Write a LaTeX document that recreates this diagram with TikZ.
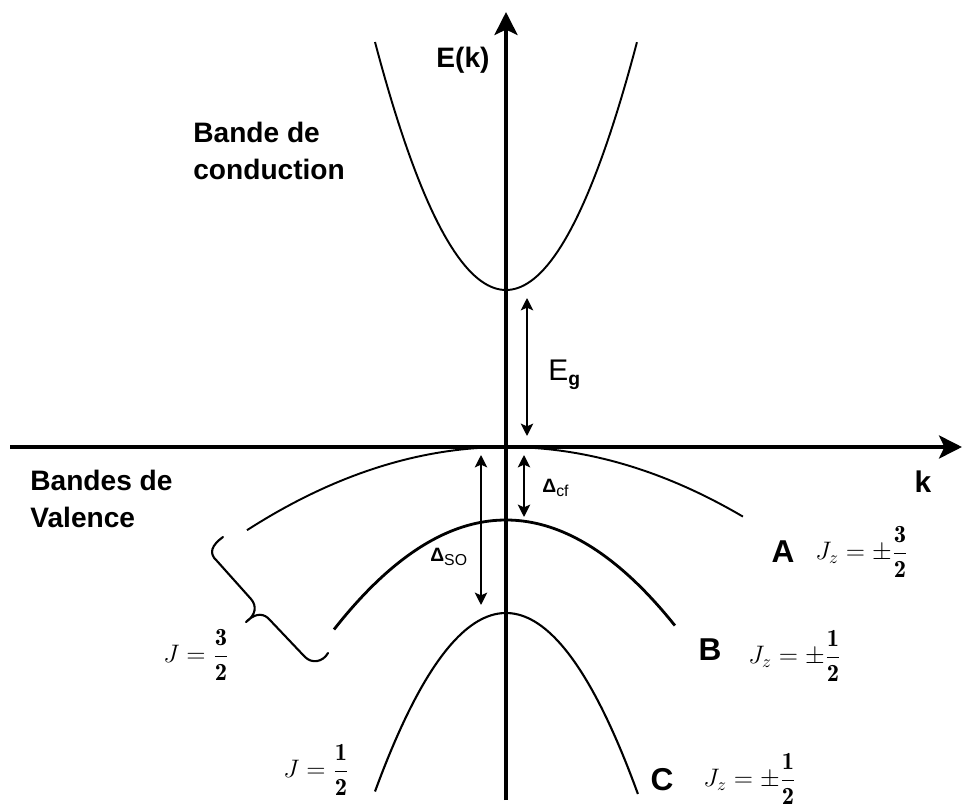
\documentclass[tikz,border=0pt]{standalone}
\usepackage{amsmath}
\usepackage{fontspec}
\setsansfont{Liberation Sans}
\usetikzlibrary{arrows.meta}

\tikzset{
  lbl/.style={font=\sffamily\bfseries\fontsize{16}{21.5}\selectfont, align=left, inner sep=0pt},
  letter/.style={font=\sffamily\bfseries\fontsize{18}{20}\selectfont, inner sep=0pt},
  jlbl/.style={font=\fontsize{14}{17}\selectfont, inner sep=0pt},
  dlbl/.style={font=\sffamily\fontsize{11}{13}\selectfont, inner sep=0pt},
  band/.style={line width=1.1pt},
  axis/.style={line width=2.6pt, -{Stealth[length=13pt,width=13pt,inset=3pt]}},
  gaparrow/.style={line width=1.3pt, {Stealth[length=7pt,width=7pt,inset=1.5pt]}-{Stealth[length=7pt,width=7pt,inset=1.5pt]}},
}
\newcommand{\subtxt}[1]{\raisebox{-0.35ex}{\fontsize{9}{10}\selectfont #1}}

\begin{document}
\begin{tikzpicture}[x=0.02cm, y=-0.02cm]
  \useasboundingbox (0,0) rectangle (963,810);
  % Axes
  \coordinate (kstart) at (10,447);
  \coordinate (kend) at (962,447);
  \coordinate (Ebot) at (506,800);
  \coordinate (Etop) at (506,12);
  \draw[axis] (kstart) -- (kend);
  \draw[axis] (Ebot) -- (Etop);
  \node[lbl, anchor=center] (Ek) at (463,60) {E(k)};
  \node[lbl, anchor=center, font=\sffamily\bfseries\fontsize{17}{20}\selectfont] (k) at (923,482) {k};
  % Conduction band (\x in units of 100 px)
  \draw[band, domain=-1.31:1.31, samples=80] plot ({506+100*\x}, {290-144.5*\x*\x});
  \node[lbl, anchor=west] (cond) at (193,151) {Bande de\\conduction};
  % Valence bands A, B, C
  \draw[band, domain=-2.59:2.37, samples=80] plot ({506+100*\x}, {447+12.4*\x*\x});
  \draw[band, line width=1.6pt, domain=-1.72:1.69, samples=80] plot ({506+100*\x}, {520+37*\x*\x});
  \draw[band, line width=1.2pt, domain=-1.31:1.32, samples=80] plot ({506+100*\x}, {613+104*\x*\x});
  \node[lbl, anchor=west] (val) at (30,499) {Bandes de\\Valence};
  % Gaps
  \coordinate (EgTop) at (527,298);
  \coordinate (EgBot) at (527,436);
  \draw[gaparrow] (EgTop) -- (EgBot);
  \node[inner sep=0pt, anchor=west] (Eg) at (548,375) {\sffamily\fontsize{17}{20}\selectfont E\raisebox{-0.35ex}{\fontsize{11}{12}\selectfont\bfseries g}};
  \coordinate (cfTop) at (524,455);
  \coordinate (cfBot) at (524,517);
  \draw[gaparrow] (cfTop) -- (cfBot);
  \node[dlbl, anchor=west] (cf) at (542,488) {\textbf{Δ}\subtxt{cf}};
  \coordinate (soTop) at (481,455);
  \coordinate (soBot) at (481,605);
  \draw[gaparrow] (soTop) -- (soBot);
  \node[dlbl, anchor=west] (so) at (430,557) {\textbf{Δ}\subtxt{SO}};
  % Brace J = 3/2
  \draw[line width=1.2pt, line cap=round, line join=round]
    (223,537) .. controls (212,545) and (208,553) .. (217,561) -- (251,599)
    .. controls (257,606) and (256,615) .. (246,622)
    .. controls (253,615) and (261,612) .. (268,618) -- (305,657)
    .. controls (312,664) and (323,662) .. (328,653);
  \node[jlbl, anchor=west] (J32) at (163,655) {$J=\dfrac{\mathbf{3}}{\mathbf{2}}$};
  \node[jlbl, anchor=west] (J12) at (283,770) {$J=\dfrac{\mathbf{1}}{\mathbf{2}}$};
  % Band labels
  \node[letter] (A) at (783,552) {A};
  \node[jlbl, anchor=west] (JzA) at (815,552) {$J_z=\pm\dfrac{\mathbf{3}}{\mathbf{2}}$};
  \node[letter] (B) at (710,650) {B};
  \node[jlbl, anchor=west] (JzB) at (748,656) {$J_z=\pm\dfrac{\mathbf{1}}{\mathbf{2}}$};
  \node[letter] (C) at (662,780) {C};
  \node[jlbl, anchor=west] (JzC) at (703,779) {$J_z=\pm\dfrac{\mathbf{1}}{\mathbf{2}}$};
\end{tikzpicture}
\end{document}
